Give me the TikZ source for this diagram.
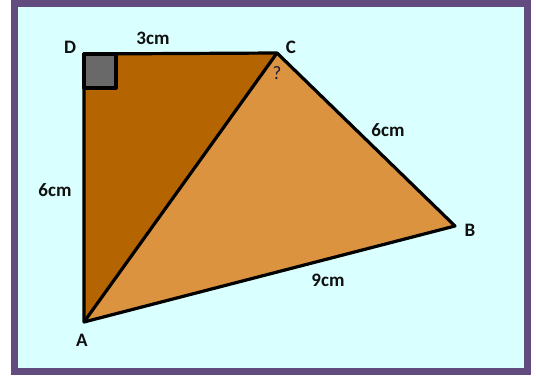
\documentclass[tikz,border=0pt]{standalone}
\usepackage{fontspec}
\setmainfont{Carlito}
\definecolor{frame}{HTML}{624B7E}
\definecolor{bgc}{HTML}{D9FFFF}
\definecolor{darkor}{HTML}{B46400}
\definecolor{lightor}{HTML}{DB933F}
\definecolor{sq}{HTML}{696969}
\definecolor{lab}{HTML}{101010}
\definecolor{qc}{HTML}{1A1A40}
\begin{document}
\begin{tikzpicture}[x=1pt,y=-1pt,
  lbl/.style={font=\bfseries\fontsize{19}{19}\selectfont, text=lab, inner sep=0pt},
  edge/.style={line width=3.2pt, line join=round}]
\useasboundingbox (0,0) rectangle (536,378);
\fill[white] (0,0) rectangle (536,378);
\fill[frame] (11,0) rectangle (531,375);
\fill[bgc] (18,7) rectangle (524,368);
\coordinate (D) at (84,54);
\coordinate (C) at (277,53);
\coordinate (B) at (455,226);
\coordinate (A) at (84,322);
\fill[darkor] (D) -- (C) -- (A) -- cycle;
\fill[lightor] (A) -- (C) -- (B) -- cycle;
\draw[edge, fill=sq] (D) rectangle (116,88);
\draw[edge] (D) -- (C) -- (B) -- (A) -- cycle;
\draw[edge] (A) -- (C);
\node[lbl] (lD) at (70,47) {D};
\node[lbl] (lC) at (291,47) {C};
\node[lbl] (lB) at (470,230) {B};
\node[lbl] (lA) at (82,340) {A};
\node[lbl] (l3) at (153,38) {3cm};
\node[lbl] (l6a) at (388,130) {6cm};
\node[lbl] (l6b) at (55,190) {6cm};
\node[lbl] (l9) at (328,280) {9cm};
\node[inner sep=0pt, font=\fontsize{19}{19}\selectfont, text=qc] (q) at (277,73) {?};
\end{tikzpicture}
\end{document}
